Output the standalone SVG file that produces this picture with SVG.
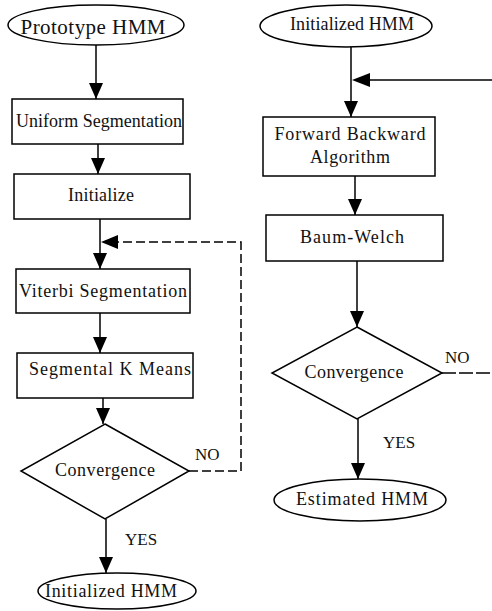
<svg xmlns="http://www.w3.org/2000/svg" width="492" height="611" viewBox="0 0 492 611">
<defs>
<marker id="ah" markerWidth="16" markerHeight="14" refX="16" refY="7" orient="auto" markerUnits="userSpaceOnUse" viewBox="0 0 16 14">
<path d="M0,0 L16,7 L0,14 z" fill="#000"/>
</marker>
</defs>
<style>
.s{fill:#fff;stroke:#000;stroke-width:1.5}
.t{font-size:18px;fill:#111;text-anchor:middle}
.l{font-size:17px;fill:#111}
.c{fill:none;stroke:#000;stroke-width:1.5}
.d{stroke-dasharray:9,4}
</style>
<rect width="492" height="611" fill="#fff"/>
<g font-family="'Liberation Serif', 'DejaVu Serif', 'Times New Roman', serif">
<g id="connectors">
<line class="c" x1="96" y1="45" x2="96" y2="99" marker-end="url(#ah)"/>
<line class="c" x1="98" y1="144" x2="98" y2="174" marker-end="url(#ah)"/>
<line class="c" x1="100" y1="219" x2="100" y2="269" marker-end="url(#ah)"/>
<path class="c d" d="M189,471 H241 V242 H118"/>
<path d="M101,242 L118,235 L118,249 z" fill="#000"/>
<line class="c" x1="100" y1="313" x2="100" y2="353" marker-end="url(#ah)"/>
<line class="c" x1="103" y1="398" x2="103" y2="424" marker-end="url(#ah)"/>
<line class="c" x1="106" y1="519" x2="106" y2="573" marker-end="url(#ah)"/>
<line class="c" x1="351" y1="47" x2="351" y2="117" marker-end="url(#ah)"/>
<path class="c" d="M492,80 H370"/>
<path d="M352,80 L370,73 L370,87 z" fill="#000"/>
<line class="c" x1="355" y1="176" x2="355" y2="215" marker-end="url(#ah)"/>
<line class="c" x1="357" y1="261" x2="357" y2="327" marker-end="url(#ah)"/>
<path class="c" d="M442,373 H492" stroke-dasharray="14,3"/>
<line class="c" x1="358" y1="419" x2="358" y2="479" marker-end="url(#ah)"/>
<text class="l" x="195" y="460">NO</text>
<text class="l" x="125" y="545">YES</text>
<text class="l" x="445" y="363">NO</text>
<text class="l" x="383" y="448">YES</text>
</g>
<g id="prototype-hmm">
<ellipse class="s" cx="96" cy="25" rx="88" ry="20"/>
<text class="t" x="93" y="34" style="font-size:21px" textLength="145" lengthAdjust="spacing">Prototype HMM</text>
</g>
<g id="uniform-segmentation">
<rect class="s" x="12" y="99" width="171" height="45"/>
<text class="t" x="99" y="127" textLength="166" lengthAdjust="spacing">Uniform Segmentation</text>
</g>
<g id="initialize">
<rect class="s" x="14" y="174" width="176" height="45"/>
<text class="t" x="101" y="201" textLength="66" lengthAdjust="spacing">Initialize</text>
</g>
<g id="viterbi-segmentation">
<rect class="s" x="16" y="269" width="174" height="44"/>
<text class="t" x="103" y="297" textLength="168" lengthAdjust="spacing">Viterbi Segmentation</text>
</g>
<g id="segmental-k-means">
<rect class="s" x="17" y="353" width="176" height="45"/>
<text class="t" x="110" y="375" textLength="162" lengthAdjust="spacing">Segmental K Means</text>
</g>
<g id="convergence-left">
<polygon class="s" points="105,424 189,471 105,519 21,471"/>
<text class="t" x="105" y="476" textLength="100" lengthAdjust="spacing">Convergence</text>
</g>
<g id="initialized-hmm-out">
<ellipse class="s" cx="117" cy="591" rx="79" ry="18"/>
<text class="t" x="111" y="597" textLength="132" lengthAdjust="spacing">Initialized HMM</text>
</g>
<g id="initialized-hmm-in">
<ellipse class="s" cx="346" cy="26" rx="86" ry="21"/>
<text class="t" x="352" y="30" textLength="124" lengthAdjust="spacing">Initialized HMM</text>
</g>
<g id="forward-backward">
<rect class="s" x="263" y="117" width="172" height="59"/>
<text class="t" x="350" y="140" textLength="151" lengthAdjust="spacing">Forward Backward</text>
<text class="t" x="350" y="163" textLength="80" lengthAdjust="spacing">Algorithm</text>
</g>
<g id="baum-welch">
<rect class="s" x="266" y="215" width="177" height="46"/>
<text class="t" x="352" y="243" textLength="104" lengthAdjust="spacing">Baum-Welch</text>
</g>
<g id="convergence-right">
<polygon class="s" points="357,327 442,373 357,419 272,373"/>
<text class="t" x="354" y="378" textLength="99" lengthAdjust="spacing">Convergence</text>
</g>
<g id="estimated-hmm">
<ellipse class="s" cx="360" cy="500" rx="86" ry="21"/>
<text class="t" x="362" y="505" textLength="132" lengthAdjust="spacing">Estimated HMM</text>
</g>
</g>
</svg>
